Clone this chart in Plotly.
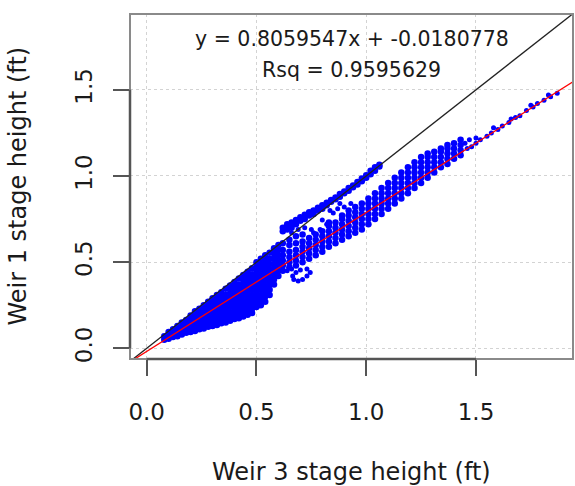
import plotly.graph_objects as go

# ---- regression results shown on the chart ----
slope = 0.8059547
intercept = -0.0180778
rsq = 0.9595629

x_ticks = [0.0, 0.5, 1.0, 1.5]
x_tick_labels = ["0.0", "0.5", "1.0", "1.5"]
y_ticks = [0.0, 0.5, 1.0, 1.5]
y_tick_labels = ["0.0", "0.5", "1.0", "1.5"]

x_title = "Weir 3 stage height (ft)"
y_title = "Weir 1 stage height (ft)"

low_band = [
    (0.08, [0.05, 0.07]),
    (0.10, [0.055, 0.08, 0.095]),
    (0.12, [0.065, 0.09, 0.11]),
    (0.14, [0.07, 0.095, 0.12, 0.13]),
    (0.16, [0.08, 0.105, 0.13, 0.15]),
    (0.18, [0.09, 0.115, 0.14, 0.165]),
    (0.20, [0.095, 0.12, 0.145, 0.17, 0.19]),
    (0.22, [0.10, 0.125, 0.15, 0.175, 0.20, 0.215]),
    (0.24, [0.11, 0.135, 0.16, 0.185, 0.21, 0.23]),
    (0.26, [0.115, 0.14, 0.165, 0.19, 0.215, 0.24, 0.25]),
    (0.28, [0.125, 0.15, 0.175, 0.20, 0.225, 0.25, 0.27]),
    (0.30, [0.13, 0.155, 0.18, 0.205, 0.23, 0.255, 0.28, 0.29]),
    (0.32, [0.135, 0.16, 0.19, 0.215, 0.24, 0.265, 0.29, 0.31]),
    (0.34, [0.145, 0.17, 0.195, 0.22, 0.25, 0.275, 0.30, 0.325]),
    (0.36, [0.15, 0.18, 0.205, 0.23, 0.255, 0.28, 0.31, 0.345]),
    (0.38, [0.16, 0.185, 0.21, 0.24, 0.265, 0.29, 0.32, 0.35, 0.365]),
    (0.40, [0.17, 0.195, 0.22, 0.25, 0.275, 0.30, 0.33, 0.36, 0.385]),
    (0.42, [0.175, 0.20, 0.23, 0.26, 0.285, 0.31, 0.34, 0.37, 0.405]),
    (0.44, [0.185, 0.21, 0.24, 0.265, 0.295, 0.32, 0.35, 0.38, 0.41, 0.425]),
    (0.46, [0.195, 0.22, 0.25, 0.275, 0.30, 0.33, 0.36, 0.39, 0.42, 0.445]),
    (0.48, [0.205, 0.23, 0.255, 0.285, 0.31, 0.34, 0.37, 0.40, 0.43, 0.465]),
    (0.50, [0.24, 0.265, 0.29, 0.32, 0.35, 0.38, 0.41, 0.44, 0.47, 0.50]),
    (0.52, [0.25, 0.28, 0.31, 0.34, 0.37, 0.40, 0.43, 0.46, 0.49, 0.52]),
    (0.54, [0.27, 0.30, 0.33, 0.36, 0.39, 0.42, 0.45, 0.48, 0.51, 0.54]),
    (0.56, [0.31, 0.34, 0.37, 0.40, 0.43, 0.46, 0.49, 0.52, 0.555]),
    (0.58, [0.37, 0.40, 0.43, 0.46, 0.49, 0.52, 0.55, 0.58]),
    (0.60, [0.42, 0.45, 0.48, 0.51, 0.54, 0.57, 0.60]),
]

main_band = [
    (0.62, [0.45, 0.48, 0.51, 0.54, 0.57, 0.61]),
    (0.65, [0.47, 0.50, 0.53, 0.56, 0.60, 0.63]),
    (0.68, [0.48, 0.51, 0.54, 0.57, 0.61, 0.65]),
    (0.71, [0.50, 0.53, 0.56, 0.59, 0.62, 0.66]),
    (0.74, [0.52, 0.55, 0.58, 0.61, 0.64]),
    (0.77, [0.54, 0.57, 0.60, 0.63, 0.66]),
    (0.80, [0.56, 0.59, 0.62, 0.65, 0.68]),
    (0.83, [0.59, 0.62, 0.65, 0.68, 0.71, 0.73]),
    (0.86, [0.61, 0.64, 0.67, 0.70, 0.73]),
    (0.89, [0.63, 0.66, 0.69, 0.72, 0.75, 0.77]),
    (0.92, [0.65, 0.68, 0.71, 0.74, 0.77, 0.80]),
    (0.95, [0.67, 0.70, 0.73, 0.76, 0.79, 0.82]),
    (0.98, [0.69, 0.72, 0.75, 0.78, 0.81, 0.84]),
    (1.01, [0.72, 0.75, 0.78, 0.81, 0.84, 0.87]),
    (1.04, [0.75, 0.78, 0.81, 0.84, 0.87, 0.90]),
    (1.07, [0.78, 0.81, 0.84, 0.87, 0.90, 0.93]),
    (1.10, [0.81, 0.84, 0.87, 0.90, 0.93, 0.96]),
    (1.13, [0.84, 0.87, 0.90, 0.93, 0.96, 0.99]),
    (1.16, [0.87, 0.90, 0.93, 0.96, 0.99, 1.02]),
    (1.19, [0.90, 0.93, 0.96, 0.99, 1.02, 1.05]),
    (1.22, [0.93, 0.96, 0.99, 1.02, 1.05, 1.08]),
    (1.25, [0.96, 0.99, 1.02, 1.05, 1.08, 1.11]),
    (1.28, [0.99, 1.02, 1.05, 1.08, 1.11, 1.13]),
    (1.31, [1.02, 1.05, 1.08, 1.11, 1.14]),
    (1.34, [1.05, 1.08, 1.11, 1.14, 1.16]),
    (1.37, [1.07, 1.10, 1.13, 1.16, 1.18]),
    (1.40, [1.10, 1.13, 1.16, 1.19]),
    (1.43, [1.12, 1.15, 1.18, 1.21]),
]

upper_strand = [
    (0.62, [0.68, 0.70]), (0.64, [0.69, 0.72]), (0.66, [0.70, 0.73]),
    (0.68, [0.72, 0.745]), (0.70, [0.74, 0.76]), (0.72, [0.75, 0.775]),
    (0.74, [0.77, 0.79]), (0.76, [0.78, 0.80]), (0.78, [0.80, 0.815]),
    (0.80, [0.81, 0.83]), (0.82, [0.83, 0.845]), (0.84, [0.85, 0.86]),
    (0.86, [0.865, 0.875]), (0.88, [0.88, 0.895]), (0.90, [0.90, 0.91]),
    (0.92, [0.915, 0.93]), (0.94, [0.935, 0.945]), (0.96, [0.95, 0.965]),
    (0.98, [0.97, 0.985]), (1.00, [0.99, 1.005]), (1.02, [1.01, 1.03]),
    (1.04, [1.03, 1.05]), (1.06, [1.055, 1.065]),
]

scatter_x = [0.66, 0.69, 0.72, 0.75, 0.76, 0.79, 0.80, 0.82, 0.835, 0.85, 0.87, 0.88, 0.90, 0.93,
             0.64, 0.665, 0.67, 0.69, 0.71, 0.73, 0.745, 0.73, 0.70, 0.68, 0.66,
             1.45, 1.46, 1.47, 1.48, 1.50, 1.50, 1.52, 1.55, 1.57, 1.58, 1.60, 1.62, 1.65, 1.66,
             1.68, 1.70, 1.73, 1.75, 1.76, 1.78, 1.81, 1.83, 1.84, 1.87]
scatter_y = [0.67, 0.69, 0.70, 0.69, 0.67, 0.69, 0.745, 0.72, 0.80, 0.785, 0.81, 0.84, 0.82, 0.84,
             0.45, 0.42, 0.40, 0.39, 0.40, 0.42, 0.44, 0.46, 0.455, 0.44, 0.46,
             1.19, 1.16, 1.21, 1.17, 1.19, 1.22, 1.21, 1.23, 1.25, 1.28, 1.27, 1.29, 1.31, 1.33,
             1.34, 1.35, 1.38, 1.41, 1.40, 1.42, 1.44, 1.47, 1.46, 1.48]

# ---- flatten the column groups ----
dense_x, dense_y = [], []
for group in (low_band, main_band, upper_strand):
    for xv, ys in group:
        for yv in ys:
            dense_x.append(xv)
            dense_y.append(yv)

x_range = [-0.076, 1.942]
y_range = [-0.062, 1.940]

fig = go.Figure()
fig.add_trace(go.Scatter(x=dense_x, y=dense_y, mode="markers",
                         marker=dict(color="#0000ff", size=6.5, line=dict(width=0)),
                         showlegend=False, hoverinfo="skip"))
fig.add_trace(go.Scatter(x=scatter_x, y=scatter_y, mode="markers",
                         marker=dict(color="#0000ff", size=5, line=dict(width=0)),
                         showlegend=False, hoverinfo="skip"))

# 1:1 line and regression line across the whole panel
line_x = [x_range[0] - 0.2, x_range[1] + 0.2]
fig.add_trace(go.Scatter(x=line_x, y=line_x, mode="lines",
                         line=dict(color="#222222", width=1.3),
                         showlegend=False, hoverinfo="skip"))
fig.add_trace(go.Scatter(x=line_x, y=[slope * v + intercept for v in line_x], mode="lines",
                         line=dict(color="#ff0000", width=1.3),
                         showlegend=False, hoverinfo="skip"))

font_family = "DejaVu Sans, Liberation Sans, Arial, sans-serif"
text_color = "#1a1a1a"

axis_common = dict(
    showgrid=True, gridcolor="#d3d3d3", gridwidth=1, griddash="dot",
    zeroline=False, showline=False, automargin=False,
    ticks="outside", ticklen=16, tickwidth=2, tickcolor="#555555",
    tickfont=dict(family=font_family, size=23, color=text_color),
)

fig.update_layout(
    width=575, height=486,
    margin=dict(l=130, r=2, t=14, b=127),
    paper_bgcolor="white", plot_bgcolor="white",
    xaxis=dict(range=x_range, tickvals=x_ticks, ticktext=x_tick_labels,
               ticklabelstandoff=16, **axis_common),
    yaxis=dict(range=y_range, tickvals=y_ticks, ticktext=y_tick_labels,
               tickangle=-90, ticklabelstandoff=12, **axis_common),
    showlegend=False,
)

# frame and R-style axis lines spanning first..last tick
fig.add_shape(type="rect", xref="paper", yref="paper", x0=0, x1=1, y0=0, y1=1,
              line=dict(color="#8a8a8a", width=2), layer="above")
fig.add_shape(type="line", xref="x", yref="paper", x0=x_ticks[0], x1=x_ticks[-1], y0=0, y1=0,
              line=dict(color="#555555", width=2.5), layer="above")
fig.add_shape(type="line", xref="paper", yref="y", x0=0, x1=0, y0=y_ticks[0], y1=y_ticks[-1],
              line=dict(color="#555555", width=2.5), layer="above")

# regression text
fig.add_annotation(text=f"y = {slope}x + {intercept}", xref="paper", yref="paper",
                   x=0.5, y=0.9275, showarrow=False, xanchor="center", yanchor="middle",
                   font=dict(family=font_family, size=20.5, color=text_color))
fig.add_annotation(text=f"Rsq = {rsq}", xref="paper", yref="paper",
                   x=0.5, y=0.8377, showarrow=False, xanchor="center", yanchor="middle",
                   font=dict(family=font_family, size=20.5, color=text_color))

# axis titles
fig.add_annotation(text=x_title, xref="paper", yref="paper", x=0.5, y=-0.3275,
                   showarrow=False, xanchor="center", yanchor="middle",
                   font=dict(family=font_family, size=24, color=text_color))
fig.add_annotation(text=y_title, xref="paper", yref="paper", x=-0.255, y=0.5,
                   showarrow=False, xanchor="center", yanchor="middle", textangle=-90,
                   font=dict(family=font_family, size=24, color=text_color))

fig.write_html("out.html", config={"displayModeBar": False},
               post_script="document.body.style.margin='0';")
